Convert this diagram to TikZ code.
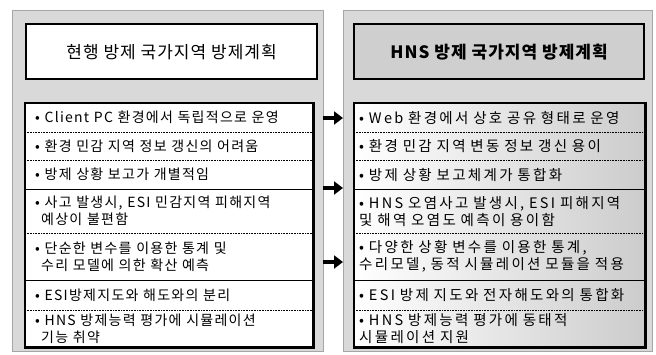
\documentclass[tikz,border=0pt]{standalone}
\usepackage{fontspec}
\setmainfont{Noto Sans CJK KR}
\newfontfamily\rowfont[LetterSpace=9]{Noto Sans CJK KR}
\newfontfamily\rowfontR[LetterSpace=16]{Noto Sans CJK KR}
\newfontfamily\titlefont[LetterSpace=6]{Noto Sans CJK KR}
\usetikzlibrary{arrows.meta}
\tikzset{
  panel/.style={draw=gray!70, fill=gray!30, line width=0.6pt, anchor=north west, inner sep=0pt},
  titleL/.style={draw=black, line width=2.2pt, fill=white, anchor=north west, inner sep=0pt,
    font=\titlefont\fontsize{17}{19}\selectfont},
  titleR/.style={draw=black, line width=2.2pt, fill=gray!38, anchor=north west, inner sep=0pt,
    font=\titlefont\fontsize{17}{19}\selectfont\bfseries},
  rowL/.style={anchor=north west, fill=white, inner ysep=0pt, inner xsep=10pt, align=left,
    font=\rowfont\fontsize{14}{17}\selectfont, minimum width=288pt, text width=268pt},
  rowR/.style={anchor=north west, left color=white, right color=gray!40, inner ysep=0pt, inner xsep=5pt, align=left,
    font=\rowfontR\fontsize{14.5}{17}\selectfont, minimum width=291pt, text width=281pt},
  sepdot/.style={line width=0.6pt, densely dotted},
  sepsol/.style={line width=0.8pt},
  bigarrow/.style={line width=4.5pt, -{Triangle[length=9pt,width=13pt]}}
}
\begin{document}
\begin{tikzpicture}[x=1pt,y=-1pt]
\useasboundingbox (0,0) rectangle (656,354);
% panels
\node[panel, minimum width=311pt, minimum height=341pt] (LP) at (12,10) {};
\node[panel, minimum width=309pt, minimum height=341pt] (RP) at (343,10) {};
% titles
\node[titleL, minimum width=291pt, minimum height=55pt] (LT) at (25,23) {현행 방제 국가지역 방제계획};
\node[titleR, minimum width=290pt, minimum height=55pt] (RT) at (353,23) {HNS 방제 국가지역 방제계획};
% left rows
\node[rowL, minimum height=29pt] (L1) at (25,103) {• Client PC 환경에서 독립적으로 운영};
\node[rowL, minimum height=28pt] (L2) at (25,132) {• 환경 민감 지역 정보 갱신의 어려움};
\node[rowL, minimum height=29pt] (L3) at (25,160) {• 방제 상황 보고가 개별적임};
\node[rowL, minimum height=44pt] (L4) at (25,189) {• 사고 발생시, ESI 민감지역 피해지역\\\hspace*{6pt}예상이 불편함};
\node[rowL, minimum height=47pt] (L5) at (25,233) {• 단순한 변수를 이용한 통계 및\\\hspace*{6pt}수리 모델에 의한 확산 예측};
\node[rowL, minimum height=30pt] (L6) at (25,280) {• ESI방제지도와 해도와의 분리};
\node[rowL, minimum height=37pt] (L7) at (25,310) {• HNS 방제능력 평가에 시뮬레이션\\\hspace*{6pt}기능 취약};
% right rows
\node[rowR, minimum height=29pt] (R1) at (354,103) {• Web 환경에서 상호 공유 형태로 운영};
\node[rowR, minimum height=28pt] (R2) at (354,132) {• 환경 민감 지역 변동 정보 갱신 용이};
\node[rowR, minimum height=29pt] (R3) at (354,160) {• 방제 상황 보고체계가 통합화};
\node[rowR, minimum height=44pt] (R4) at (354,189) {• HNS 오염사고 발생시, ESI 피해지역\\및 해역 오염도 예측이 용이함};
\node[rowR, minimum height=47pt] (R5) at (354,233) {• 다양한 상황 변수를 이용한 통계,\\수리모델, 동적 시뮬레이션 모듈을 적용};
\node[rowR, minimum height=30pt] (R6) at (354,280) {• ESI 방제 지도와 전자해도와의 통합화};
\node[rowR, minimum height=37pt] (R7) at (354,310) {• HNS 방제능력 평가에 동태적\\시뮬레이션 지원};
% separators
\foreach \a/\s in {1/sepdot,2/sepdot,3/sepsol,4/sepdot,5/sepsol,6/sepdot}{
  \draw[\s] (L\a.south west) -- (L\a.south east);
  \draw[\s] (R\a.south west) -- (R\a.south east);
}
% list outlines
\draw[line width=2.6pt] (L1.north west) rectangle (L7.south east);
\draw[line width=2.6pt] (R1.north west) rectangle (R7.south east);
% arrows
\coordinate (A1) at (323,118);
\coordinate (A2) at (323,188);
\coordinate (A3) at (323,262);
\foreach \i in {1,2,3}{
  \draw[bigarrow] (A\i) -- (A\i -| RP.west);
}
\end{tikzpicture}
\end{document}
